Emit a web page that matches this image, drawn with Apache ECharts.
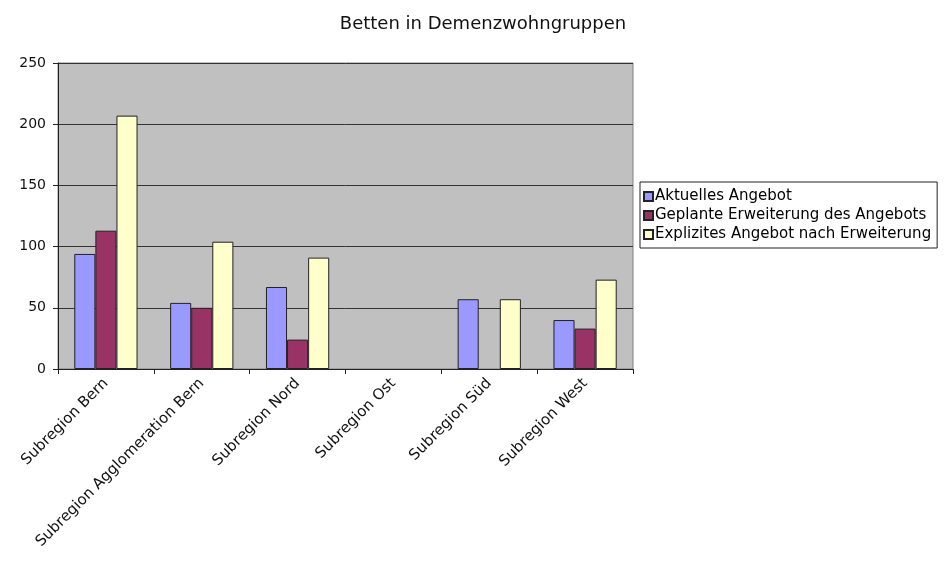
<!DOCTYPE html>
<html>
<head>
<meta charset="utf-8">
<script src="https://cdn.jsdelivr.net/npm/echarts@6/dist/echarts.min.js"></script>
<style>
  html, body { margin: 0; padding: 0; background: #fff; }
  #chart { width: 952px; height: 565px; }
</style>
</head>
<body>
<div id="chart"></div>
<script>
// Daten
var regionen = ['Subregion Bern', 'Subregion Agglomeration Bern', 'Subregion Nord', 'Subregion Ost', 'Subregion Süd', 'Subregion West']
var aktuell = [94, 54, 67, 0, 57, 40]
var geplant = [113, 50, 24, 0, 0, 33]
var explizit = [207, 104, 91, 0, 57, 73]
var serienNamen = ['Aktuelles Angebot', 'Geplante Erweiterung des Angebots', 'Explizites Angebot nach Erweiterung']
var farben = ['#9999FF', '#993366', '#FFFFCC']

var fontName = '"DejaVu Sans", sans-serif'

var chartDom = document.getElementById('chart')
var myChart = echarts.init(chartDom)

var makeSeries = function (name, data, color) {
  return {
    name: name,
    type: 'bar',
    // Nullwerte ohne Rand, damit kein Strich auf der Achse bleibt
    data: data.map(function (v) {
      return v === 0 ? { value: v, itemStyle: { borderWidth: 0 } } : v
    }),
    barGap: '0%',
    barCategoryGap: '34%',
    itemStyle: { color: color, borderColor: '#222', borderWidth: 1 }
  }
}

var option = {
  animation: false,
  title: {
    text: 'Betten in Demenzwohngruppen',
    left: 478,
    textAlign: 'center',
    top: 10,
    textStyle: { fontFamily: fontName, fontWeight: 'normal', fontSize: 18, color: '#111' }
  },
  legend: {
    orient: 'vertical',
    left: 640,
    top: 182,
    itemWidth: 9,
    itemHeight: 9,
    itemGap: 4,
    padding: [7, 6, 6, 3],
    borderColor: '#222',
    borderWidth: 1,
    icon: 'rect',
    textStyle: { fontFamily: fontName, fontSize: 15, color: '#000', padding: [0, 0, 0, -3] },
    data: serienNamen
  },
  grid: {
    left: 58,
    right: 319,
    top: 63,
    bottom: 196,
    show: true,
    backgroundColor: '#C0C0C0',
    borderColor: '#808080',
    borderWidth: 1
  },
  xAxis: {
    type: 'category',
    data: regionen,
    axisLine: { lineStyle: { color: '#222' } },
    axisTick: { show: true, length: 5, lineStyle: { color: '#222' } },
    axisLabel: {
      interval: 0,
      rotate: 45,
      margin: 12,
      fontFamily: fontName,
      fontSize: 15,
      color: '#111'
    }
  },
  yAxis: {
    type: 'value',
    min: 0,
    max: 250,
    interval: 50,
    axisLine: { show: true, lineStyle: { color: '#222' } },
    axisTick: { show: true, length: 5, lineStyle: { color: '#222' } },
    axisLabel: { fontFamily: fontName, fontSize: 14, color: '#111', margin: 12 },
    splitLine: { lineStyle: { color: '#333', width: 1 } }
  },
  series: [
    makeSeries(serienNamen[0], aktuell, farben[0]),
    makeSeries(serienNamen[1], geplant, farben[1]),
    makeSeries(serienNamen[2], explizit, farben[2])
  ]
}

option && myChart.setOption(option)
</script>
</body>
</html>
